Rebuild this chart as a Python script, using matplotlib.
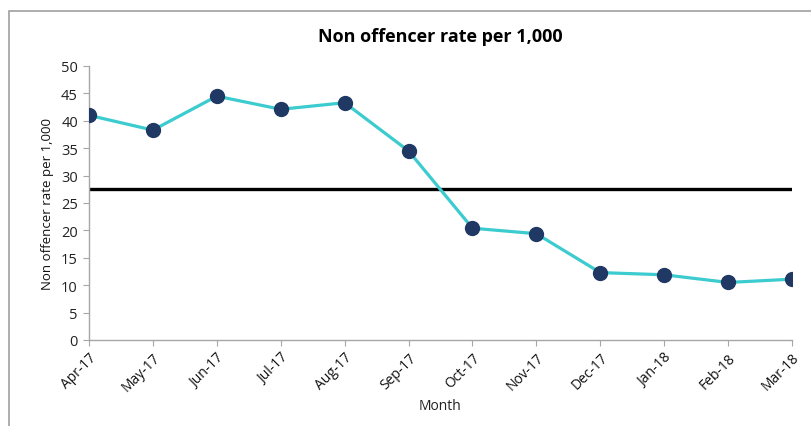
import matplotlib
matplotlib.use("Agg")
import matplotlib.pyplot as plt
from matplotlib.patches import Rectangle

months = ["Apr-17", "May-17", "Jun-17", "Jul-17", "Aug-17", "Sep-17",
          "Oct-17", "Nov-17", "Dec-17", "Jan-18", "Feb-18", "Mar-18"]
rate = [41.0, 38.3, 44.5, 42.1, 43.3, 34.5, 20.4, 19.4, 12.3, 11.9, 10.5, 11.1]
average = 27.5

plt.rcParams['font.family'] = ['Open Sans', 'DejaVu Sans']

fig = plt.figure(figsize=(8.11, 4.27), dpi=100)
ax = fig.add_axes([89/811, 86/427, 703/811, 274/427])

# outer chart frame (cropped at right and bottom)
fig.patches.append(Rectangle((9/811, -0.1), 1.2, (427-12)/427 + 0.1,
                             transform=fig.transFigure, fill=False,
                             edgecolor='#A0A0A0', linewidth=1.2))

x = list(range(len(months)))
ax.plot([x[0], x[-1]], [average, average], color='black', linewidth=2.4, zorder=2)
ax.plot(x, rate, color='#3CCBCF', linewidth=2.3, zorder=3)
ax.plot(x, rate, 'o', color='#1F3864', markersize=10, zorder=4)

ax.set_xlim(0, len(months) - 1)
ax.set_ylim(0, 50)
ax.set_yticks(range(0, 51, 5))
ax.set_xticks(x)
ax.set_xticklabels(months, rotation=45, ha='right', rotation_mode='anchor',
                   fontsize=10, color='#111111')
ax.tick_params(axis='y', labelsize=10.5, labelcolor='#222222', length=4,
               color='#A6A6A6', pad=4)
ax.tick_params(axis='x', length=4, color='#A6A6A6', pad=3)

for s in ['top', 'right']:
    ax.spines[s].set_visible(False)
for s in ['left', 'bottom']:
    ax.spines[s].set_color('#A6A6A6')
    ax.spines[s].set_linewidth(1.0)

ax.set_title("Non offencer rate per 1,000", fontsize=13, fontweight='bold',
             pad=18)
ax.set_ylabel("Non offencer rate per 1,000", fontsize=9.5, color='#111111',
              labelpad=5)
ax.set_xlabel("Month", fontsize=10, color='#222222', labelpad=3)

fig.savefig("out.png", dpi=100)
plt.close()
